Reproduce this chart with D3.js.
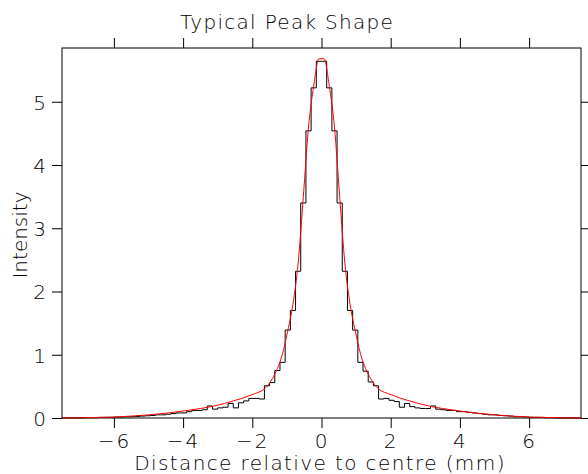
<!DOCTYPE html>
<html>
<head>
<meta charset="utf-8">
<script src="https://cdn.jsdelivr.net/npm/d3@7"></script>
<style>
  body { margin: 0; background: #fff; }
  svg text { font-family: "DejaVu Sans", sans-serif; font-weight: 200; fill: #000; }
</style>
</head>
<body>
<div id="chart"></div>
<script>
// histogram: 100 bins of 0.15 mm from -7.5 to 7.5
var binStart = -7.5, binWidth = 0.15;
var binValues = [
  0.0, 0.0, 0.0, 0.0, 0.005, 0.005, 0.005, 0.01, 0.01, 0.01,
  0.015, 0.015, 0.02, 0.02, 0.025, 0.03, 0.035, 0.04, 0.05, 0.05,
  0.06, 0.07, 0.08, 0.08, 0.10, 0.12, 0.12, 0.13, 0.19, 0.14,
  0.16, 0.17, 0.23, 0.16, 0.24, 0.27, 0.31, 0.31, 0.30, 0.51,
  0.56, 0.75, 0.88, 1.39, 1.70, 2.32, 3.40, 4.54, 5.22, 5.64,
  5.64, 5.22, 4.54, 3.40, 2.32, 1.70, 1.39, 0.88, 0.74, 0.57,
  0.51, 0.30, 0.31, 0.28, 0.26, 0.17, 0.23, 0.18, 0.16, 0.15,
  0.15, 0.19, 0.14, 0.13, 0.12, 0.12, 0.10, 0.10, 0.09, 0.08,
  0.07, 0.06, 0.05, 0.05, 0.04, 0.035, 0.03, 0.02, 0.02, 0.015,
  0.01, 0.01, 0.01, 0.005, 0.005, 0.0, 0.0, 0.0, 0.0, 0.0
];

// fitted profile (red)
var fitX = [-7.5, -7.0, -6.5, -6.0, -5.5, -5.0, -4.5, -4.0, -3.5, -3.1, -2.8, -2.55, -2.3, -2.1, -1.9,
  -1.725, -1.575, -1.425, -1.275, -1.125, -0.975, -0.825, -0.675, -0.525, -0.375, -0.225, -0.075,
  0.075, 0.225, 0.375, 0.525, 0.675, 0.825, 0.975, 1.125, 1.275, 1.425, 1.575, 1.725,
  1.9, 2.1, 2.3, 2.55, 2.8, 3.1, 3.5, 4.0, 4.5, 5.0, 5.5, 6.0, 6.5, 7.0, 7.5];
var fitY = [0.0, 0.003, 0.008, 0.015, 0.03, 0.05, 0.075, 0.11, 0.15, 0.19, 0.23, 0.27, 0.31, 0.35, 0.39,
  0.43, 0.50, 0.62, 0.78, 1.02, 1.38, 1.80, 2.45, 3.50, 4.60, 5.25, 5.68,
  5.68, 5.25, 4.60, 3.50, 2.45, 1.80, 1.38, 1.02, 0.78, 0.62, 0.50, 0.43,
  0.39, 0.35, 0.31, 0.27, 0.23, 0.19, 0.15, 0.11, 0.075, 0.05, 0.03, 0.015, 0.008, 0.003, 0.0];

var xTicks = [-6, -4, -2, 0, 2, 4, 6];
var yTicks = [0, 1, 2, 3, 4, 5];

var W = 588, H = 474;
var mLeft = 62, mRight = 581, mTop = 48, mBottom = 418;

var svg = d3.select("#chart").append("svg").attr("width", W).attr("height", H);

var x = d3.scaleLinear().domain([-7.5, 7.5]).range([mLeft, mRight]);
var y = d3.scaleLinear().domain([0, 5.85]).range([mBottom, mTop]);

// axes, ticks pointing out of the frame
var gB = svg.append("g").attr("transform", "translate(0," + mBottom + ")")
  .call(d3.axisBottom(x).tickValues(xTicks).tickSize(10).tickSizeOuter(0));
gB.selectAll("text").attr("y", 30).attr("dy", null)
  .style("font-size", "20px").style("letter-spacing", "2px");

var gT = svg.append("g").attr("transform", "translate(0," + mTop + ")")
  .call(d3.axisTop(x).tickValues(xTicks).tickSize(10).tickSizeOuter(0).tickFormat(""));

var gL = svg.append("g").attr("transform", "translate(" + mLeft + ",0)")
  .call(d3.axisLeft(y).tickValues(yTicks).tickSize(10).tickPadding(6).tickSizeOuter(0).tickFormat(d3.format("d")));
gL.selectAll("text").attr("dy", "0.37em").style("font-size", "20px");

var gR = svg.append("g").attr("transform", "translate(" + mRight + ",0)")
  .call(d3.axisRight(y).tickValues(yTicks).tickSize(10).tickSizeOuter(0).tickFormat(""));

svg.selectAll(".domain").remove();
svg.selectAll(".tick line").attr("stroke", "#000").attr("stroke-width", 1);
svg.selectAll(".tick text").attr("font-family", null);

// frame
svg.append("rect")
  .attr("x", mLeft).attr("y", mTop)
  .attr("width", mRight - mLeft).attr("height", mBottom - mTop)
  .attr("fill", "none").attr("stroke", "#000").attr("stroke-width", 1);

// histogram as a step line
var histPts = binValues.map(function(v, i) { return [binStart + i * binWidth, v]; });
histPts.push([binStart + binValues.length * binWidth, binValues[binValues.length - 1]]);

var stepLine = d3.line()
  .x(function(d) { return x(d[0]); })
  .y(function(d) { return y(d[1]); })
  .curve(d3.curveStepAfter);

svg.append("path")
  .datum(histPts)
  .attr("d", stepLine)
  .attr("fill", "none")
  .attr("stroke", "#000")
  .attr("stroke-width", 1);

// fit curve
var fitLine = d3.line()
  .x(function(d) { return x(d[0]); })
  .y(function(d) { return y(d[1]); })
  .curve(d3.curveMonotoneX);

svg.append("path")
  .datum(fitX.map(function(v, i) { return [v, fitY[i]]; }))
  .attr("d", fitLine)
  .attr("fill", "none")
  .attr("stroke", "#ff0000")
  .attr("stroke-width", 1);

// titles
svg.append("text").attr("x", 287).attr("y", 29)
  .attr("text-anchor", "middle").style("font-size", "20px").style("letter-spacing", "1.3px")
  .text("Typical Peak Shape");

svg.append("text").attr("x", 320).attr("y", 470)
  .attr("text-anchor", "middle").style("font-size", "20px").style("letter-spacing", "1.4px")
  .text("Distance relative to centre (mm)");

svg.append("text")
  .attr("transform", "translate(27,235) rotate(-90)")
  .attr("text-anchor", "middle").style("font-size", "20px")
  .text("Intensity");
</script>
</body>
</html>
